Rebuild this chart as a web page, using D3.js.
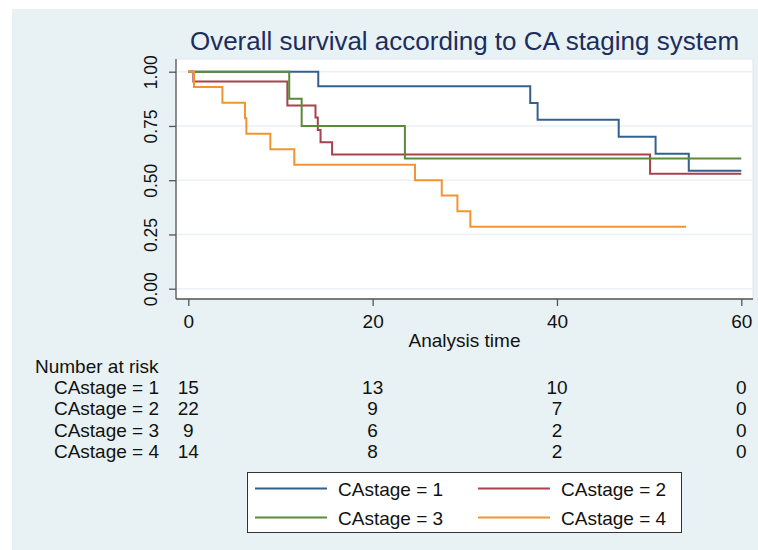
<!DOCTYPE html>
<html>
<head>
<meta charset="utf-8">
<script src="https://cdn.jsdelivr.net/npm/d3@7"></script>
<style>
  html, body { margin: 0; padding: 0; background: #ffffff; }
  svg { display: block; }
  text { font-family: "Liberation Sans", Arial, Helvetica, sans-serif; }
</style>
</head>
<body>
<svg id="chart" width="758" height="550"></svg>
<script>
// Kaplan-Meier step estimates by CA stage (time in analysis units, survival probability)
const stage1Time = [0, 14.1, 37.1, 37.9, 46.7, 50.7, 54.3, 60];
const stage1Surv = [1, 0.933, 0.856, 0.778, 0.700, 0.622, 0.544, 0.544];

const stage2Time = [0, 0.55, 10.75, 13.8, 14.05, 14.35, 15.6, 50.1, 60];
const stage2Surv = [1, 0.955, 0.844, 0.789, 0.731, 0.675, 0.619, 0.530, 0.530];

const stage3Time = [0, 10.95, 12.3, 23.5, 60];
const stage3Surv = [1, 0.875, 0.750, 0.600, 0.600];

const stage4Time = [0, 0.62, 3.7, 6.15, 6.3, 8.9, 11.5, 24.6, 27.5, 29.2, 30.6, 54.0];
const stage4Surv = [1, 0.929, 0.857, 0.786, 0.714, 0.643, 0.571, 0.500, 0.429, 0.357, 0.286, 0.286];

const stageLabels = ["CAstage = 1", "CAstage = 2", "CAstage = 3", "CAstage = 4"];
const stageColors = ["#34608f", "#a6434d", "#5b8a3a", "#f29531"];

// Number-at-risk table
const riskTimes = [0, 20, 40, 60];
const riskStage1 = [15, 13, 10, 0];
const riskStage2 = [22, 9, 7, 0];
const riskStage3 = [9, 6, 2, 0];
const riskStage4 = [14, 8, 2, 0];

const xTicks = [0, 20, 40, 60];
const yTicks = [0, 0.25, 0.5, 0.75, 1];

const series = [
  { time: stage1Time, surv: stage1Surv },
  { time: stage2Time, surv: stage2Surv },
  { time: stage3Time, surv: stage3Surv },
  { time: stage4Time, surv: stage4Surv }
];
const riskRows = [riskStage1, riskStage2, riskStage3, riskStage4];

const svg = d3.select("#chart");

// panel background
svg.append("rect").attr("x", 12).attr("y", 9).attr("width", 746).attr("height", 541)
  .attr("fill", "#e8f1f3");

// plot region
const plot = { left: 176, right: 753, top: 59, bottom: 299 };
svg.append("rect").attr("x", plot.left).attr("y", plot.top)
  .attr("width", plot.right - plot.left).attr("height", plot.bottom - plot.top)
  .attr("fill", "#ffffff").attr("stroke", "#dfe8eb").attr("stroke-width", 1);

const x = d3.scaleLinear().domain([0, 60]).range([188.3, 741.3]);
const y = d3.scaleLinear().domain([0, 1]).range([288.7, 71.7]);

// horizontal grid
svg.append("g").selectAll("line").data(yTicks).join("line")
  .attr("x1", plot.left + 1).attr("x2", plot.right - 1)
  .attr("y1", d => y(d)).attr("y2", d => y(d))
  .attr("stroke", "#eaf2f4").attr("stroke-width", 1.6);

// title
svg.append("text").attr("x", (plot.left + plot.right) / 2).attr("y", 50)
  .attr("text-anchor", "middle").attr("font-size", 26).attr("fill", "#1b2e5e")
  .text("Overall survival according to CA staging system");

// y axis
const yAxis = svg.append("g").attr("transform", `translate(${plot.left},0)`)
  .call(d3.axisLeft(y).tickValues(yTicks).tickFormat(d3.format(".2f")).tickSize(7).tickPadding(0));
yAxis.select(".domain").attr("d", `M0,${plot.top}V${plot.bottom}`).attr("stroke", "#555").attr("stroke-width", 1.3);
yAxis.selectAll(".tick line").attr("stroke", "#555").attr("stroke-width", 1.3);
yAxis.selectAll(".tick text")
  .attr("font-size", 17.5).attr("fill", "#111")
  .attr("x", null).attr("dy", null)
  .attr("text-anchor", "middle")
  .attr("transform", "translate(-19,0) rotate(-90)");

// x axis
const xAxis = svg.append("g").attr("transform", `translate(0,${plot.bottom})`)
  .call(d3.axisBottom(x).tickValues(xTicks).tickSize(7).tickPadding(3));
xAxis.select(".domain").attr("d", `M${plot.left},0H${plot.right}`).attr("stroke", "#555").attr("stroke-width", 1.3);
xAxis.selectAll(".tick line").attr("stroke", "#555").attr("stroke-width", 1.3);
xAxis.selectAll(".tick text").attr("font-size", 19).attr("fill", "#111")
  .attr("dy", null).attr("y", 29);
svg.selectAll(".tick text").attr("font-family", null);

svg.append("text").attr("x", (plot.left + plot.right) / 2).attr("y", 347)
  .attr("text-anchor", "middle").attr("font-size", 19).attr("fill", "#111")
  .text("Analysis time");

// survival curves
const line = d3.line().curve(d3.curveStepAfter)
  .x(d => x(d[0])).y(d => y(d[1]));
svg.append("g").selectAll("path").data(series).join("path")
  .attr("d", s => line(s.time.map((t, i) => [t, s.surv[i]])))
  .attr("fill", "none")
  .attr("stroke", (s, i) => stageColors[i])
  .attr("stroke-width", 2);

// number at risk table
svg.append("text").attr("x", 35).attr("y", 373).attr("font-size", 19).attr("fill", "#111")
  .text("Number at risk");
const rowBase = [394, 415, 436.5, 458];
riskRows.forEach((row, r) => {
  svg.append("text").attr("x", 159).attr("y", rowBase[r]).attr("text-anchor", "end")
    .attr("font-size", 19).attr("fill", "#111").text(stageLabels[r]);
  svg.append("g").selectAll("text").data(row).join("text")
    .attr("x", (d, i) => x(riskTimes[i])).attr("y", rowBase[r])
    .attr("text-anchor", "middle").attr("font-size", 19).attr("fill", "#111")
    .text(d => d);
});

// legend
const legend = svg.append("g");
legend.append("rect").attr("x", 247.5).attr("y", 472.5).attr("width", 434).attr("height", 60)
  .attr("fill", "#ffffff").attr("stroke", "#333").attr("stroke-width", 1);
const legPos = [[255, 488.5], [478, 488.5], [255, 517.5], [478, 517.5]];
stageLabels.forEach((lab, i) => {
  const [lx, ly] = legPos[i];
  legend.append("line").attr("x1", lx).attr("x2", lx + 72).attr("y1", ly).attr("y2", ly)
    .attr("stroke", stageColors[i]).attr("stroke-width", 2);
  legend.append("text").attr("x", lx + 83).attr("y", ly + 7).attr("font-size", 19).attr("fill", "#111")
    .text(lab);
});
</script>
</body>
</html>
